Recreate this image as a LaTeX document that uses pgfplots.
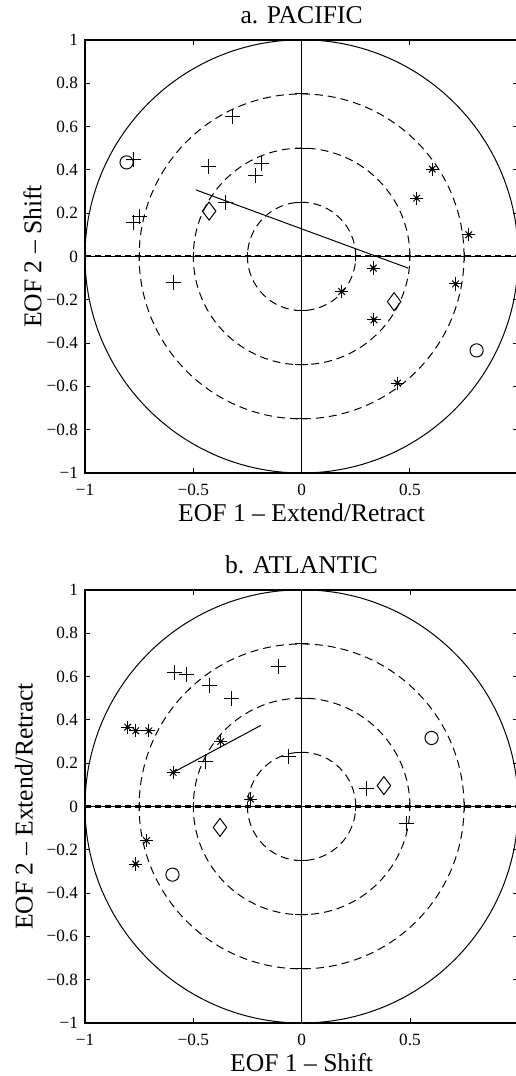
\documentclass[border=0pt]{standalone}
\usepackage{fontspec}
\setmainfont{Liberation Serif}
\usepackage{pgfplots}
\pgfplotsset{compat=1.18}

\tikzset{guide/.style={black, line width=0.5pt, dash pattern=on 4pt off 2.5pt}}
\pgfplotsset{
  eof/.style={
    scale only axis, width=216.6pt, height=216.6pt,
    xmin=-1, xmax=1, ymin=-1, ymax=1,
    xtick={-1,-0.5,0,0.5,1}, xticklabels={−1,−0.5,0,0.5,},
    ytick={-1,-0.8,-0.6,-0.4,-0.2,0,0.2,0.4,0.6,0.8,1},
    yticklabels={−1,−0.8,−0.6,−0.4,−0.2,0,0.2,0.4,0.6,0.8,1},
    tick align=inside, major tick length=2.5pt,
    tick style={black, line width=0.4pt},
    axis line style={line width=0.8pt},
    ticklabel style={font=\fontsize{8.6}{10}\selectfont},
    label style={font=\fontsize{12.8}{15}\selectfont},
    title style={font=\fontsize{12.8}{15}\selectfont, at={(0.5,1)}, anchor=center, yshift=6.5pt},
    xlabel style={at={(axis description cs:0.5,0)}, anchor=center, yshift=-20pt},
    xticklabel style={anchor=center, yshift=-8.5pt},
  },
  pl/.style={black, only marks, mark=+, mark size=3.75pt, mark options={line width=0.5pt}},
  stA/.style={black, only marks, mark=+, mark size=3.3pt, mark options={line width=0.5pt}},
  stB/.style={black, only marks, mark=x, mark size=2.35pt, mark options={line width=0.5pt}},
  stC/.style={black, only marks, mark=*, mark size=0.8pt},
  dm/.style={black, only marks, mark=diamond, mark size=4.5pt, mark options={line width=0.5pt, fill=none}},
  ci/.style={black, only marks, mark=o, mark size=3.3pt, mark options={line width=0.5pt}},
}

\newcommand{\guides}{%
  \draw[black, line width=0.5pt] (axis cs:0,0) circle [radius=1];
  \draw[guide] (axis cs:0,0) circle [radius=0.75];
  \draw[guide] (axis cs:0,0) circle [radius=0.5];
  \draw[guide] (axis cs:0,0) circle [radius=0.25];
  \addplot[black, line width=0.5pt] coordinates {(0,-1) (0,1)};
  \addplot[black, line width=0.4pt] coordinates {(-1,0) (1,0)};
  \addplot[black, line width=1.1pt, dash pattern=on 3pt off 2pt] coordinates {(-1,0) (1,0)};
  \addplot[black, line width=0.5pt, unbounded coords=jump] coordinates {
    (-0.03,0.25) (0.03,0.25) (nan,nan) (-0.03,0.5) (0.03,0.5) (nan,nan)
    (-0.03,0.75) (0.03,0.75) (nan,nan) (-0.03,-0.25) (0.03,-0.25) (nan,nan)
    (-0.03,-0.5) (0.03,-0.5) (nan,nan) (-0.03,-0.75) (0.03,-0.75) (nan,nan)
    (0.25,-0.02) (0.25,0.02) (nan,nan) (0.5,-0.02) (0.5,0.02) (nan,nan)
    (0.75,-0.02) (0.75,0.02) (nan,nan) (-0.25,-0.02) (-0.25,0.02) (nan,nan)
    (-0.5,-0.02) (-0.5,0.02) (nan,nan) (-0.75,-0.02) (-0.75,0.02)};
}

\begin{document}
\begin{tikzpicture}
% a. Pacific
\begin{axis}[eof, title={a. PACIFIC},
  xlabel={EOF 1 – Extend/Retract}, ylabel={EOF 2 – Shift},
  ylabel style={at={(axis description cs:-0.121,0.5)}, anchor=center}]
\guides
\addplot[black, line width=0.5pt] coordinates {(-0.488,0.307) (0.492,-0.054)};
\addplot[pl] coordinates {(-0.777,0.449) (-0.320,0.646) (-0.428,0.415) (-0.185,0.427)
  (-0.212,0.374) (-0.351,0.249) (-0.777,0.157) (-0.747,0.184) (-0.590,-0.119)};
\addplot[stA] coordinates {(0.603,0.403) (0.531,0.269) (0.772,0.100) (0.331,-0.054)
  (0.711,-0.127) (0.185,-0.162) (0.334,-0.293) (0.443,-0.585)};
\addplot[stB] coordinates {(0.603,0.403) (0.531,0.269) (0.772,0.100) (0.331,-0.054)
  (0.711,-0.127) (0.185,-0.162) (0.334,-0.293) (0.443,-0.585)};
\addplot[stC] coordinates {(0.603,0.403) (0.531,0.269) (0.772,0.100) (0.331,-0.054)
  (0.711,-0.127) (0.185,-0.162) (0.334,-0.293) (0.443,-0.585)};
\addplot[dm] coordinates {(-0.427,0.209) (0.427,-0.209)};
\addplot[ci] coordinates {(-0.808,0.434) (0.808,-0.434)};
\end{axis}

% b. Atlantic
\begin{axis}[eof, at={(0pt,-275pt)}, title={b. ATLANTIC},
  xlabel={EOF 1 – Shift}, ylabel={EOF 2 – Extend/Retract},
  ylabel style={at={(axis description cs:-0.141,0.5)}, anchor=center}]
\guides
\addplot[black, line width=0.5pt] coordinates {(-0.593,0.157) (-0.188,0.374)};
\addplot[pl] coordinates {(-0.588,0.619) (-0.531,0.608) (-0.427,0.557) (-0.323,0.496)
  (-0.105,0.646) (-0.443,0.208) (-0.062,0.231) (0.300,0.082) (0.482,-0.077)};
\addplot[stA] coordinates {(-0.803,0.366) (-0.766,0.349) (-0.705,0.349) (-0.373,0.300)
  (-0.593,0.157) (-0.236,0.034) (-0.716,-0.158) (-0.766,-0.266)};
\addplot[stB] coordinates {(-0.803,0.366) (-0.766,0.349) (-0.705,0.349) (-0.373,0.300)
  (-0.593,0.157) (-0.236,0.034) (-0.716,-0.158) (-0.766,-0.266)};
\addplot[stC] coordinates {(-0.803,0.366) (-0.766,0.349) (-0.705,0.349) (-0.373,0.300)
  (-0.593,0.157) (-0.236,0.034) (-0.716,-0.158) (-0.766,-0.266)};
\addplot[dm] coordinates {(0.380,0.096) (-0.377,-0.097)};
\addplot[ci] coordinates {(0.600,0.316) (-0.596,-0.315)};
\end{axis}

\pgfresetboundingbox
\path[use as bounding box] (-42.5pt,-301.5pt) rectangle (215pt,236.5pt);
\end{tikzpicture}
\end{document}
